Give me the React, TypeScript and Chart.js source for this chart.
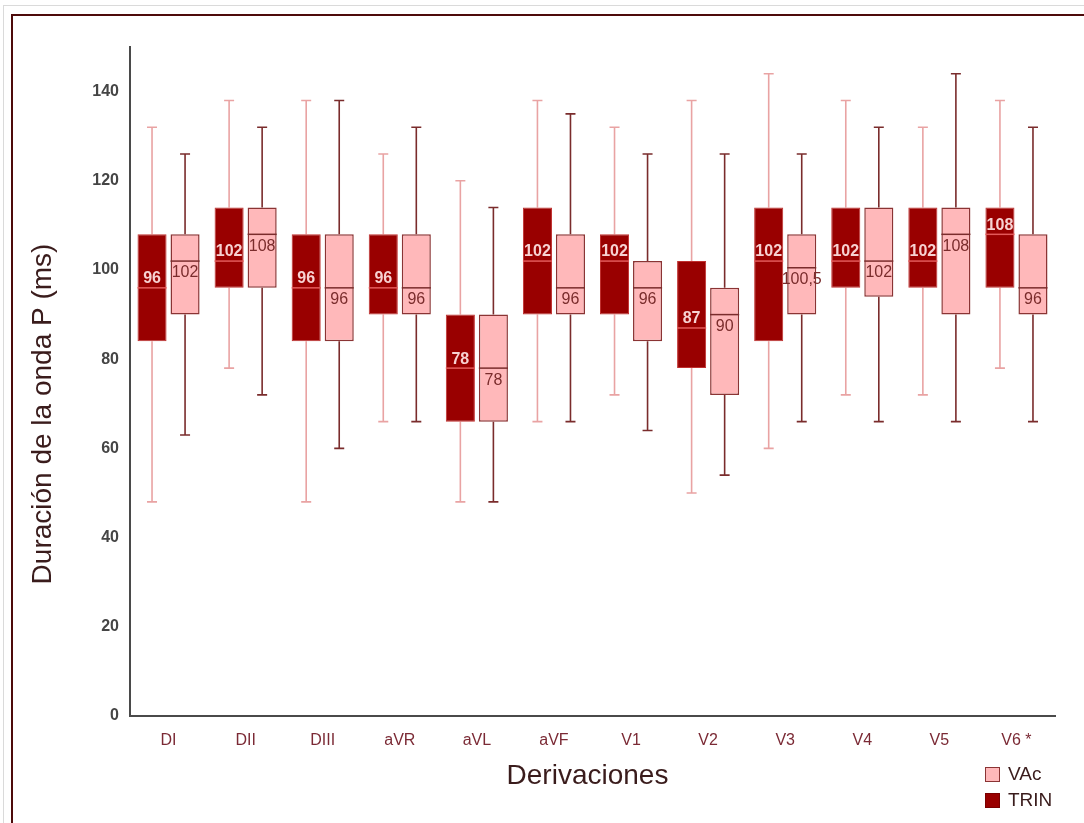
import React, { useEffect, useRef } from "react";
import { Chart, registerables } from "chart.js";

Chart.register(...registerables);

const categories = ["DI", "DII", "DIII", "aVR", "aVL", "aVF", "V1", "V2", "V3", "V4", "V5", "V6 *"];

const trinMin = [48, 78, 48, 66, 48, 66, 72, 50, 60, 72, 72, 78];
const trinQ1 = [84, 96, 84, 90, 66, 90, 90, 78, 84, 96, 96, 96];
const trinMedian = [96, 102, 96, 96, 78, 102, 102, 87, 102, 102, 102, 108];
const trinQ3 = [108, 114, 108, 108, 90, 114, 108, 102, 114, 114, 114, 114];
const trinMax = [132, 138, 138, 126, 120, 138, 132, 138, 144, 138, 132, 138];

const vacMin = [63, 72, 60, 66, 48, 66, 64, 54, 66, 66, 66, 66];
const vacQ1 = [90, 96, 84, 90, 66, 90, 84, 72, 90, 94, 90, 90];
const vacMedian = [102, 108, 96, 96, 78, 96, 96, 90, 100.5, 102, 108, 96];
const vacQ3 = [108, 114, 108, 108, 90, 108, 102, 96, 108, 114, 114, 108];
const vacMax = [126, 132, 138, 132, 114, 135, 126, 126, 126, 132, 144, 132];

const yTicks = [0, 20, 40, 60, 80, 100, 120, 140];

const FONT = "'Liberation Sans', Arial, Helvetica, sans-serif";

const TRIN_FILL = "#990000";
const TRIN_BORDER = "#c0302f";
const TRIN_WHISKER = "#e9a3a3";
const TRIN_MEDIAN = "#e35a5a";
const TRIN_TEXT = "#f7d2d2";
const VAC_FILL = "#ffb8ba";
const VAC_BORDER = "#8a3434";
const VAC_WHISKER = "#7a2c2c";
const VAC_MEDIAN = "#7a2c2c";
const VAC_TEXT = "#7a2c2c";

const fmt = (v: number) => String(v).replace(".", ",");

const stats = [
  { min: trinMin, med: trinMedian, max: trinMax, q1: trinQ1, q3: trinQ3, whisker: TRIN_WHISKER, median: TRIN_MEDIAN, text: TRIN_TEXT, above: true },
  { min: vacMin, med: vacMedian, max: vacMax, q1: vacQ1, q3: vacQ3, whisker: VAC_WHISKER, median: VAC_MEDIAN, text: VAC_TEXT, above: false },
];

const boxPlugin = {
  id: "boxplotExtras",
  beforeDatasetsDraw(chart: any) {
    const ctx = chart.ctx;
    const y = chart.scales.y;
    stats.forEach((s, di) => {
      const meta = chart.getDatasetMeta(di);
      meta.data.forEach((el: any, j: number) => {
        const x = el.x;
        const cap = 5;
        ctx.save();
        ctx.strokeStyle = s.whisker;
        ctx.lineWidth = 1.6;
        const pMax = y.getPixelForValue(s.max[j]);
        const pMin = y.getPixelForValue(s.min[j]);
        const pQ3 = y.getPixelForValue(s.q3[j]);
        const pQ1 = y.getPixelForValue(s.q1[j]);
        ctx.beginPath();
        ctx.moveTo(x, pQ3);
        ctx.lineTo(x, pMax);
        ctx.moveTo(x - cap, pMax);
        ctx.lineTo(x + cap, pMax);
        ctx.moveTo(x, pQ1);
        ctx.lineTo(x, pMin);
        ctx.moveTo(x - cap, pMin);
        ctx.lineTo(x + cap, pMin);
        ctx.stroke();
        ctx.restore();
      });
    });
  },
  afterDatasetsDraw(chart: any) {
    const ctx = chart.ctx;
    const y = chart.scales.y;
    stats.forEach((s, di) => {
      const meta = chart.getDatasetMeta(di);
      meta.data.forEach((el: any, j: number) => {
        const x = el.x;
        const w = el.width;
        const pMed = y.getPixelForValue(s.med[j]);
        ctx.save();
        ctx.strokeStyle = s.median;
        ctx.lineWidth = 1.5;
        ctx.beginPath();
        ctx.moveTo(x - w / 2, pMed);
        ctx.lineTo(x + w / 2, pMed);
        ctx.stroke();
        ctx.fillStyle = s.text;
        ctx.font = `${s.above ? "bold " : ""}16px ${FONT}`;
        ctx.textAlign = "center";
        ctx.textBaseline = "middle";
        ctx.fillText(fmt(s.med[j]), x, s.above ? pMed - 9 : pMed + 12);
        ctx.restore();
      });
    });
  },
  afterDraw(chart: any) {
    const ctx = chart.ctx;
    const area = chart.chartArea;
    ctx.save();
    ctx.fillStyle = "#3a1c1c";
    ctx.font = `28px ${FONT}`;
    ctx.textAlign = "center";
    ctx.textBaseline = "middle";
    ctx.translate(43, 414);
    ctx.rotate(-Math.PI / 2);
    ctx.fillText("Duración de la onda P (ms)", 0, 0);
    ctx.restore();

    ctx.save();
    ctx.fillStyle = "#3a1c1c";
    ctx.font = `28px ${FONT}`;
    ctx.textAlign = "center";
    ctx.textBaseline = "middle";
    ctx.fillText("Derivaciones", (area.left + area.right) / 2 - 5, 776);

    const items = [
      { label: "VAc", fill: VAC_FILL, border: VAC_BORDER, y: 767 },
      { label: "TRIN", fill: TRIN_FILL, border: "#7a0000", y: 793 },
    ];
    items.forEach((it) => {
      ctx.fillStyle = it.fill;
      ctx.fillRect(985, it.y, 15, 15);
      ctx.strokeStyle = it.border;
      ctx.lineWidth = 1;
      ctx.strokeRect(985.5, it.y + 0.5, 14, 14);
      ctx.fillStyle = "#3a1c1c";
      ctx.font = `19px ${FONT}`;
      ctx.textAlign = "left";
      ctx.textBaseline = "middle";
      ctx.fillText(it.label, 1008, it.y + 8);
    });
    ctx.restore();
  },
};

export default function App() {
  const ref = useRef<HTMLCanvasElement | null>(null);

  useEffect(() => {
    if (!ref.current) return;
    const chart = new Chart(ref.current, {
      type: "bar",
      data: {
        labels: categories,
        datasets: [
          {
            label: "TRIN",
            data: trinQ1.map((q, i) => [q, trinQ3[i]]),
            backgroundColor: TRIN_FILL,
            borderColor: TRIN_BORDER,
            borderWidth: 1,
            borderSkipped: false,
            categoryPercentage: 0.857,
            barPercentage: 0.88,
          },
          {
            label: "VAc",
            data: vacQ1.map((q, i) => [q, vacQ3[i]]),
            backgroundColor: VAC_FILL,
            borderColor: VAC_BORDER,
            borderWidth: 1.5,
            borderSkipped: false,
            categoryPercentage: 0.857,
            barPercentage: 0.88,
          },
        ] as any,
      },
      options: {
        animation: false,
        responsive: false,
        devicePixelRatio: 1,
        layout: { padding: { top: 47, right: 29, left: 0, bottom: 0 } },
        plugins: {
          legend: { display: false },
          tooltip: { enabled: false },
          title: { display: false },
        },
        scales: {
          x: {
            type: "category",
            grid: { display: false, drawTicks: false },
            border: { display: true, color: "#4a4a4a", width: 2 },
            ticks: { color: "#7b2a35", font: { size: 16, family: FONT }, padding: 15 },
            afterFit: (s: any) => {
              s.height = 107;
            },
          },
          y: {
            type: "linear",
            min: 0,
            max: 150,
            grid: { display: false, drawTicks: false },
            border: { display: true, color: "#4a4a4a", width: 2 },
            ticks: { color: "#454545", font: { size: 16, family: FONT, weight: "bold" }, padding: 11 },
            afterBuildTicks: (s: any) => {
              s.ticks = yTicks.map((v) => ({ value: v }));
            },
            afterFit: (s: any) => {
              s.width = 130;
            },
          },
        },
      } as any,
      plugins: [boxPlugin],
    });
    return () => chart.destroy();
  }, []);

  return (
    <div style={{ position: "fixed", left: 0, top: 0, width: 1084, height: 823, background: "#ffffff", overflow: "hidden" }}>
      <div style={{ position: "absolute", left: 3, top: 5, right: -10, bottom: -10, borderLeft: "1px solid #dadada", borderTop: "1px solid #dadada" }} />
      <div style={{ position: "absolute", left: 11, top: 14, right: -10, bottom: -10, borderLeft: "2px solid #4d0a0a", borderTop: "2px solid #4d0a0a" }} />
      <canvas ref={ref} width={1084} height={823} style={{ position: "absolute", left: 0, top: 0 }} />
    </div>
  );
}
